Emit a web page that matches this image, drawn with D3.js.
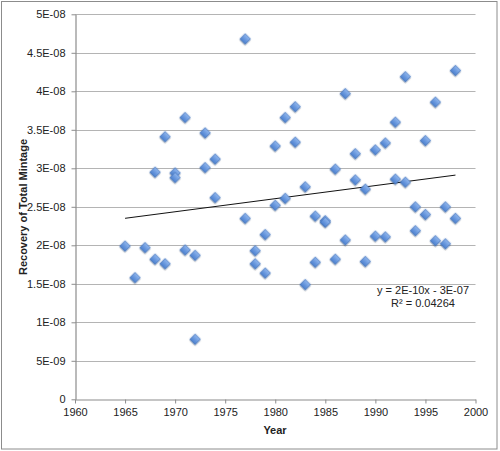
<!DOCTYPE html>
<html>
<head>
<meta charset="utf-8">
<script src="https://cdn.jsdelivr.net/npm/d3@7"></script>
<style>
  body { margin: 0; background: #fff; }
  text { font-family: "Liberation Sans", "DejaVu Sans", sans-serif; fill: #222; }
</style>
</head>
<body>
<div id="main"></div>
<script>
// values (recovery in units of 1E-09)
const years = [
  1965, 1966, 1967, 1968, 1968, 1969, 1969, 1970, 1970, 1971, 1971,
  1972, 1972, 1973, 1973, 1974, 1974, 1977, 1977, 1978, 1978, 1979, 1979,
  1980, 1980, 1981, 1981, 1982, 1982, 1983, 1983, 1984, 1984, 1985, 1985,
  1986, 1986, 1987, 1987, 1988, 1988, 1989, 1989, 1990, 1990, 1991, 1991,
  1992, 1992, 1993, 1993, 1994, 1994, 1995, 1995, 1996, 1996, 1997, 1997,
  1998, 1998
];
const recovery = [
  19.9, 15.8, 19.7, 29.5, 18.2, 34.1, 17.6, 29.4, 28.8, 36.6, 19.4,
  18.7, 7.8, 34.6, 30.1, 31.2, 26.2, 46.8, 23.5, 19.3, 17.6, 21.4, 16.4,
  32.9, 25.2, 36.6, 26.1, 38.0, 33.4, 27.6, 14.9, 23.8, 17.8, 23.2, 23.0,
  29.9, 18.2, 39.7, 20.7, 31.9, 28.5, 27.3, 17.9, 32.4, 21.2, 33.3, 21.1,
  36.0, 28.6, 41.9, 28.2, 25.0, 21.9, 33.6, 24.0, 38.6, 20.6, 25.0, 20.2,
  42.7, 23.5
].map(v => v * 1e-9);

const xTicks = [1960, 1965, 1970, 1975, 1980, 1985, 1990, 1995, 2000];
const yTicks = [0, 5e-9, 1e-8, 1.5e-8, 2e-8, 2.5e-8, 3e-8, 3.5e-8, 4e-8, 4.5e-8, 5e-8];
const yTickLabels = ["0", "5E-09", "1E-08", "1.5E-08", "2E-08", "2.5E-08", "3E-08",
                     "3.5E-08", "4E-08", "4.5E-08", "5E-08"];
const equationLines = ["y = 2E-10x - 3E-07", "R\u00b2 = 0.04264"];

let width = 500, height = 451;
let svg = d3.select('#main').append('svg').attr('width', width).attr('height', height);

let defs = svg.append('defs');
let grad = defs.append('linearGradient').attr('id', 'mk')
    .attr('x1', 0).attr('y1', 0).attr('x2', 0).attr('y2', 1);
grad.append('stop').attr('offset', '0%').attr('stop-color', '#8fb6ee');
grad.append('stop').attr('offset', '100%').attr('stop-color', '#4a7fcf');
let shadow = defs.append('filter').attr('id', 'sh')
    .attr('x', '-50%').attr('y', '-50%').attr('width', '200%').attr('height', '200%');
shadow.append('feDropShadow').attr('dx', 0.6).attr('dy', 1).attr('stdDeviation', 0.7)
    .attr('flood-color', '#000').attr('flood-opacity', 0.35);

// outer border
svg.append('rect').attr('x', 1.5).attr('y', 1.5).attr('width', 495.5).attr('height', 447.5)
    .attr('fill', '#fff').attr('stroke', '#8c8c8c').attr('stroke-width', 1);

let x = d3.scaleLinear().domain([1960, 2000]).range([75, 475.5]);
let y = d3.scaleLinear().domain([0, 5e-8]).range([399.3, 14.3]);

// gridlines
svg.append('g').selectAll('line').data(yTicks.slice(1)).enter().append('line')
    .attr('x1', x(1960)).attr('x2', x(2000))
    .attr('y1', d => Math.round(y(d)) + 0.5).attr('y2', d => Math.round(y(d)) + 0.5)
    .attr('stroke', '#b4b4b4').attr('stroke-width', 1.2);

// axes
let xAxis = d3.axisBottom(x).tickValues(xTicks).tickFormat(d3.format('d'))
    .tickSizeInner(4).tickSizeOuter(0).tickPadding(5);
let gx = svg.append('g').attr('transform', 'translate(0,' + (Math.round(y(0)) + 0.5) + ')').call(xAxis);
let yAxis = d3.axisLeft(y).tickValues(yTicks).tickFormat((d, i) => yTickLabels[i])
    .tickSizeInner(4).tickSizeOuter(0).tickPadding(6);
let gy = svg.append('g').attr('transform', 'translate(' + (Math.round(x(1960)) + 0.5) + ',0)').call(yAxis);
[gx, gy].forEach(g => {
    g.select('.domain').attr('stroke', '#8c8c8c').attr('stroke-width', 1.2);
    g.selectAll('.tick line').attr('stroke', '#8c8c8c');
    g.selectAll('.tick text').style('font-size', '11px').attr('fill', '#222');
});

// trendline from least squares
let mx = d3.mean(years), my = d3.mean(recovery);
let sxy = d3.sum(years, (v, i) => (v - mx) * (recovery[i] - my));
let sxx = d3.sum(years, v => (v - mx) * (v - mx));
let slope = sxy / sxx, icpt = my - slope * mx;
let xMin = d3.min(years), xMax = d3.max(years);
svg.append('line')
    .attr('x1', x(xMin)).attr('y1', y(slope * xMin + icpt))
    .attr('x2', x(xMax)).attr('y2', y(slope * xMax + icpt))
    .attr('stroke', '#111').attr('stroke-width', 1);

// markers: rotated squares
let diamond = d3.symbol().type(d3.symbolSquare).size(56);
svg.append('g').selectAll('path').data(years).enter().append('path')
    .attr('transform', (d, i) => 'translate(' + x(d) + ',' + y(recovery[i]) + ') rotate(45)')
    .attr('d', diamond)
    .attr('fill', 'url(#mk)')
    .attr('stroke', '#3d6fb8').attr('stroke-width', 0.6)
    .attr('filter', 'url(#sh)');

// equation label
svg.append('g').selectAll('text').data(equationLines).enter().append('text')
    .attr('x', 423).attr('y', (d, i) => 294 + i * 13)
    .attr('text-anchor', 'middle').style('font-size', '11px')
    .text(d => d);

// axis titles
svg.append('text').attr('x', 275).attr('y', 434).attr('text-anchor', 'middle')
    .style('font-size', '11px').style('font-weight', 'bold').text('Year');
svg.append('text').attr('transform', 'translate(27,207) rotate(-90)')
    .attr('text-anchor', 'middle').style('font-size', '11px').style('font-weight', 'bold')
    .text('Recovery of Total Mintage');
</script>
</body>
</html>
